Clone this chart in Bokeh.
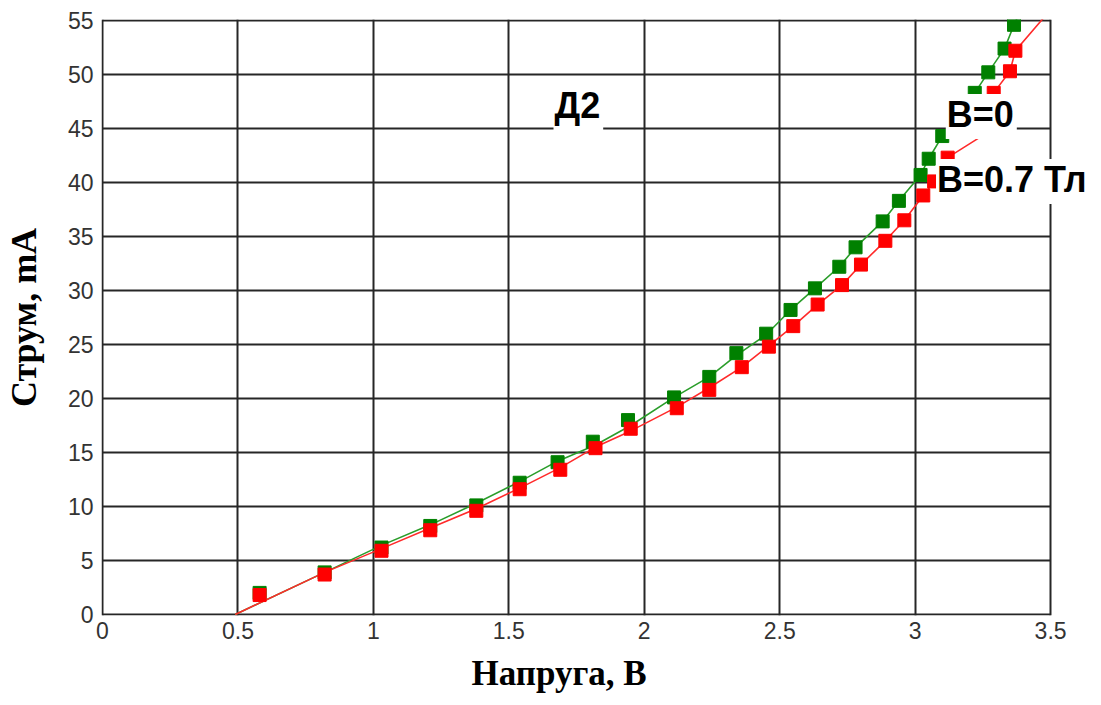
from bokeh.plotting import figure
from bokeh.models import FixedTicker, Label, Range1d, Title
from bokeh.embed import file_html
from bokeh.resources import INLINE

# ---- data ----
x_ticks = [0, 0.5, 1, 1.5, 2, 2.5, 3, 3.5]
x_tick_labels = ["0", "0.5", "1", "1.5", "2", "2.5", "3", "3.5"]
y_ticks = [0, 5, 10, 15, 20, 25, 30, 35, 40, 45, 50, 55]
y_tick_labels = ["0", "5", "10", "15", "20", "25", "30", "35", "40", "45", "50", "55"]

# B = 0 (green) measured points
b0_v = [0.58, 0.82, 1.03, 1.21, 1.38, 1.54, 1.68, 1.81, 1.94, 2.11, 2.24, 2.34, 2.45,
        2.54, 2.63, 2.72, 2.78, 2.88, 2.94, 3.02, 3.05, 3.10, 3.22, 3.27, 3.33, 3.365]
b0_i = [2.0, 3.9, 6.2, 8.2, 10.1, 12.2, 14.1, 16.0, 18.0, 20.1, 22.0, 24.2, 26.0,
        28.2, 30.2, 32.2, 34.0, 36.4, 38.3, 40.7, 42.2, 44.3, 48.3, 50.2, 52.4, 54.6]
# B = 0 curve
b0_line_v = [0.49, 0.82, 1.03, 1.21, 1.38, 1.54, 1.68, 1.82, 1.95, 2.11, 2.24, 2.34, 2.45,
             2.54, 2.63, 2.72, 2.78, 2.88, 2.94, 3.02, 3.05, 3.10, 3.22, 3.27, 3.33, 3.365, 3.40]
b0_line_i = [0.0, 3.9, 6.4, 8.3, 10.3, 12.3, 14.2, 15.7, 17.5, 20.1, 22.0, 24.0, 25.9,
             28.2, 30.2, 32.2, 34.0, 36.4, 38.3, 40.7, 42.2, 44.3, 48.3, 50.2, 52.4, 54.6, 56.5]

# B = 0.7 T (red) measured points
b7_v = [0.58, 0.82, 1.03, 1.21, 1.38, 1.54, 1.69, 1.82, 1.95, 2.12, 2.24, 2.36, 2.46,
        2.55, 2.64, 2.73, 2.80, 2.89, 2.96, 3.03, 3.07, 3.12, 3.29, 3.35, 3.37]
b7_i = [1.8, 3.7, 5.9, 7.8, 9.6, 11.6, 13.4, 15.4, 17.2, 19.1, 20.8, 22.9, 24.8,
        26.7, 28.7, 30.5, 32.4, 34.6, 36.5, 38.8, 40.1, 42.3, 48.3, 50.3, 52.2]
# B = 0.7 T curve
b7_line_v = [0.49, 0.82, 1.03, 1.21, 1.38, 1.54, 1.69, 1.82, 1.95, 2.12, 2.24, 2.36, 2.46,
             2.55, 2.64, 2.73, 2.80, 2.89, 2.96, 3.03, 3.07, 3.12, 3.24, 3.29, 3.35, 3.37, 3.50]
b7_line_i = [0.0, 3.9, 6.1, 8.0, 9.8, 11.7, 13.6, 15.5, 17.0, 19.2, 21.0, 22.9, 24.9,
             26.7, 28.7, 30.5, 32.4, 34.6, 36.5, 38.8, 40.1, 42.3, 44.2, 48.3, 50.3, 52.2, 56.0]

GRID = "#262626"

# pixel scales: 3.5 V over 950 px, 55 mA over 594 px; 1 px margin so the edge grid lines show
sx = 950 / 3.5
sy = 594 / 55
W, H = 1100, 704
p = figure(width=W, height=H, output_backend="svg", toolbar_location=None,
           x_range=Range1d(-1 / sx, (W - 99 - 1) / sx),
           y_range=Range1d(-1 / sy, 55 + 1 / sy),
           min_border_left=99, min_border_right=0, min_border_top=19, min_border_bottom=89)
p.background_fill_color = "white"
p.border_fill_color = "white"
p.outline_line_color = None

for ax in (p.xaxis, p.yaxis):
    ax.major_tick_out = 0
    ax.major_tick_in = 0
    ax.minor_tick_out = 0
    ax.minor_tick_in = 0
    ax.axis_line_color = None
    ax.major_label_text_font = "Liberation Sans"
    ax.major_label_text_font_size = "23px"
    ax.major_label_text_color = "#333333"

p.xaxis.ticker = FixedTicker(ticks=x_ticks)
p.yaxis.ticker = FixedTicker(ticks=y_ticks)
p.xaxis.major_label_overrides = {t: l for t, l in zip(x_ticks, x_tick_labels)}
p.yaxis.major_label_overrides = {t: l for t, l in zip(y_ticks, y_tick_labels)}
p.xaxis.major_label_standoff = 6
p.yaxis.major_label_standoff = 8

p.yaxis.axis_label = "Струм, mA"
p.yaxis.axis_label_text_font = "Liberation Serif"
p.yaxis.axis_label_text_font_style = "bold"
p.yaxis.axis_label_text_font_size = "36px"
p.yaxis.axis_label_text_color = "#000000"
p.yaxis.axis_label_standoff = 21

xt = Title(text="Напруга, В", align="left", offset=370, standoff=0,
           padding=dict(left=0, right=0, top=10, bottom=0),
           text_font="Liberation Serif", text_font_style="bold", text_font_size="35px",
           text_color="#000000")
p.add_layout(xt, "below")

p.xgrid.ticker = FixedTicker(ticks=x_ticks)
p.ygrid.ticker = FixedTicker(ticks=y_ticks)
p.ygrid.cross_bounds = (0, 3.5)
for g in (p.xgrid, p.ygrid):
    g.grid_line_color = GRID
    g.grid_line_width = 2

GREEN = "#008000"
GREEN_LINE = "#2a9d2a"
RED = "#ff0000"
RED_LINE = "#ff2a2a"

p.line(b0_line_v, b0_line_i, line_color=GREEN_LINE, line_width=1.6)
p.scatter(b0_v, b0_i, marker="square", size=13, fill_color=GREEN, line_color=GREEN)
p.line(b7_line_v, b7_line_i, line_color=RED_LINE, line_width=1.6)
p.scatter(b7_v, b7_i, marker="square", size=13, fill_color=RED, line_color=RED)

pad = dict(left=1, right=3, top=0, bottom=4)
for (tx, ty, txt) in [(1.665, 46.9, "Д2"), (3.113, 46.1, "B=0"), (3.077, 40.1, "B=0.7 Тл")]:
    p.add_layout(Label(x=tx, y=ty, text=txt, text_font="Liberation Sans",
                       text_font_style="bold", text_font_size="36px", text_color="#000000",
                       text_align="left", text_baseline="alphabetic",
                       background_fill_color="white", background_fill_alpha=1.0,
                       padding=pad))

open("out.html", "w").write(file_html(p, INLINE))
